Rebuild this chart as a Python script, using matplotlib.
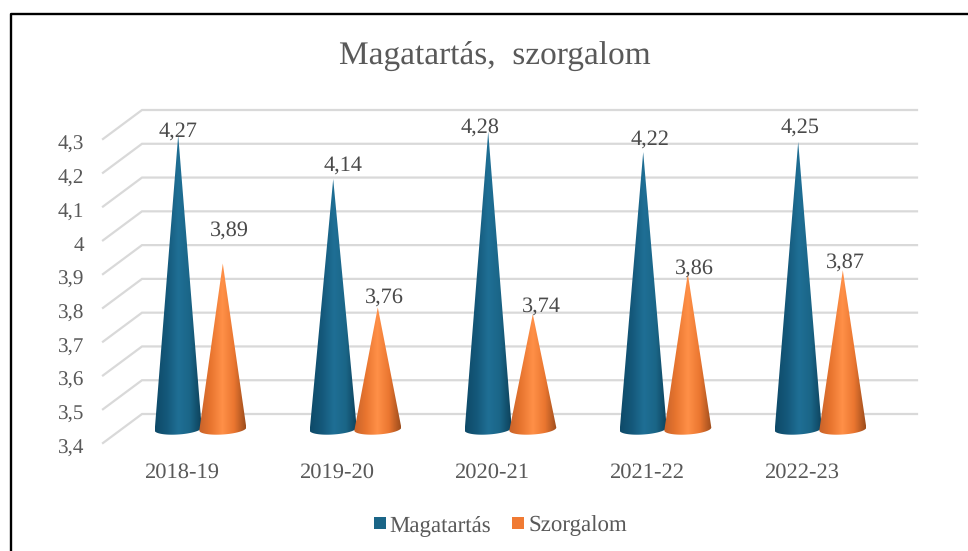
import matplotlib
matplotlib.use("Agg")
import matplotlib.pyplot as plt
import numpy as np
from matplotlib.patches import Polygon, Rectangle
from matplotlib.colors import LinearSegmentedColormap
from matplotlib.transforms import ScaledTranslation

# ---- data ----
categories = ["2018-19", "2019-20", "2020-21", "2021-22", "2022-23"]
magatartas = [4.27, 4.14, 4.28, 4.22, 4.25]
szorgalom = [3.89, 3.76, 3.74, 3.86, 3.87]
y_ticks = [3.4, 3.5, 3.6, 3.7, 3.8, 3.9, 4.0, 4.1, 4.2, 4.3]
y_labels = ["3,4", "3,5", "3,6", "3,7", "3,8", "3,9", "4", "4,1", "4,2", "4,3"]
label_m = ["4,27", "4,14", "4,28", "4,22", "4,25"]
label_s = ["3,89", "3,76", "3,74", "3,86", "3,87"]

# ---- style / layout ----
W, H = 968, 551
plt.rcParams["font.family"] = ["Liberation Serif", "DejaVu Serif"]
plt.rcParams["text.hinting"] = "no_hinting"
TXT = "#595959"
GRID = "#d9d9d9"
BLUE = "#1a6587"
ORANGE = "#f07a33"
fig = plt.figure(figsize=(W / 100, H / 100), dpi=100, facecolor="white")
ax = fig.add_axes([123 / W, 1 - 429 / H, 775 / W, 304 / H])
ax.set_xlim(-0.5, 4.5)
ax.set_ylim(3.4, 4.3)
ax.patch.set_alpha(0)
for s in ax.spines.values():
    s.set_visible(False)

px_x = 5 / 775   # data units per pixel
px_y = 0.9 / 304
dpi = fig.dpi_scale_trans

# walls of the 3D box
back_dx, back_dy = 19 * px_x, 15 * px_y
front_dx, front_dy = -20 * px_x, -14 * px_y
for v in y_ticks:
    ax.plot([-0.5 + front_dx, -0.5 + back_dx, 4.5 + back_dx],
            [v + front_dy, v + back_dy, v + back_dy],
            color=GRID, lw=1.6, clip_on=False, zorder=1, solid_joinstyle="miter")

# cones
cm_blue = LinearSegmentedColormap.from_list("b", ["#0e4a68", "#14587a", "#1f6f95", "#1a6587", "#0c3f58"])
cm_orange = LinearSegmentedColormap.from_list("o", ["#c7622a", "#e8752f", "#ff9048", "#ea7630", "#9c4c1c"])
half = 23.5 * px_x
sep = 22.3 * px_x
grad = np.linspace(0, 1, 256).reshape(1, -1)


def cone(xc, val, cmap, z):
    t = np.linspace(np.pi, 2 * np.pi, 40)
    bx = xc + half * np.cos(t)
    by = 3.4 + (5.5 * np.sin(t) + 1.5 * np.cos(t)) * px_y
    pts = np.column_stack([np.r_[bx, xc], np.r_[by, val]])
    poly = Polygon(pts, closed=True, transform=ax.transData, fc="none", ec="none")
    ax.add_patch(poly)
    im = ax.imshow(grad, extent=[xc - half, xc + half, 3.3, val], aspect="auto",
                   cmap=cmap, zorder=z, interpolation="bilinear")
    im.set_clip_box(fig.bbox)
    im.set_clip_path(poly)


for i in range(len(categories)):
    cone(i - sep, magatartas[i], cm_blue, 3)
    cone(i + sep, szorgalom[i], cm_orange, 4)
ax.set_xlim(-0.5, 4.5)
ax.set_ylim(3.4, 4.3)

# data labels, as pixel offsets from the cone tip
off_m = [(0, 4), (10, 14), (-8, 3), (7, 13), (2, 15)]
off_s = [(7, 32), (7, 10), (9, 8), (7, 4), (3, 7)]
for i in range(len(categories)):
    for xc, v, t, o in ((i - sep, magatartas[i], label_m[i], off_m[i]),
                        (i + sep, szorgalom[i], label_s[i], off_s[i])):
        ax.annotate(t, (xc, v), xytext=(o[0] * 0.72, o[1] * 0.72), textcoords="offset points",
                    ha="center", va="center", fontsize=16, color="#4a4a4a", zorder=6,
                    annotation_clip=False)

# axes ticks
ax.set_yticks(y_ticks, y_labels)
ax.set_xticks(range(len(categories)), categories)
ax.tick_params(axis="both", length=0, labelcolor=TXT)
ax.tick_params(axis="y", labelsize=15.2, pad=28)
ax.tick_params(axis="x", labelsize=16.2, pad=24)
for lab in ax.get_yticklabels():
    lab.set_transform(lab.get_transform() + ScaledTranslation(0, -17.5 / 100, dpi))
for lab in ax.get_xticklabels():
    lab.set_transform(lab.get_transform() + ScaledTranslation(-18.5 / 100, 0, dpi))

# title
fig.text(495 / W, 1 - 57 / H, "Magatartás,  szorgalom", ha="center", va="center",
         fontsize=24, color=TXT)

# legend
for x0, size, col, name, tx in ((374, 12, BLUE, "Magatartás", 389), (512, 11.5, ORANGE, "Szorgalom", 528)):
    fig.add_artist(Rectangle((x0 / W, 1 - 529 / H), size / W, 12 / H, transform=fig.transFigure,
                             fc=col, ec="none"))
    fig.text(tx / W, 1 - 525.5 / H, name, ha="left", va="center", fontsize=16.5, color=TXT)

# frame of the screenshot (left and top only)
fig.add_artist(plt.Line2D([11 / W, 11 / W, 1], [0, 1 - 13.5 / H, 1 - 13.5 / H],
                          transform=fig.transFigure, color="black", lw=1.7))

fig.savefig("out.png", dpi=100)
